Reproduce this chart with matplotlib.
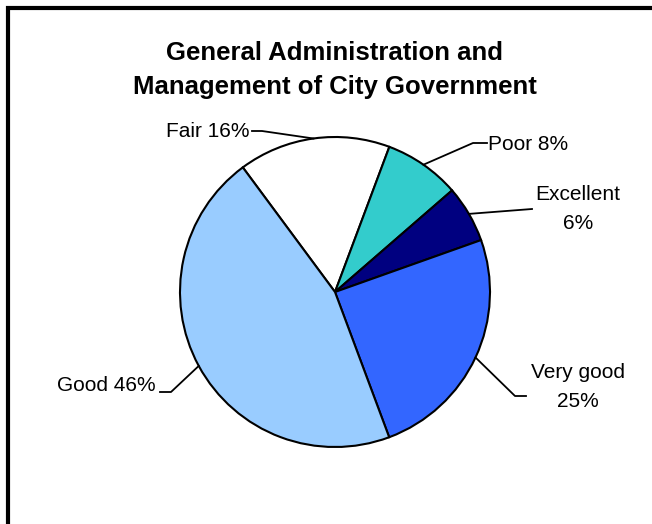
import matplotlib
matplotlib.use("Agg")
import matplotlib.pyplot as plt
import numpy as np
from matplotlib.patches import Rectangle

plt.rcParams['font.family'] = ['Liberation Sans', 'DejaVu Sans']

# Chart data
categories = ['Fair', 'Poor', 'Excellent', 'Very good', 'Good']
values = [16, 8, 6, 25, 46]
label_texts = ['Fair 16%', 'Poor 8%', 'Excellent\n6%', 'Very good\n25%', 'Good 46%']
colors = ['#FFFFFF', '#33CCCC', '#000080', '#3366FF', '#99CCFF']

W, H = 652, 524


def py(y):
    # pixel row (from top) -> data y (from bottom)
    return H - y


fig = plt.figure(figsize=(W / 100, H / 100), dpi=100)
ax = fig.add_axes([0, 0, 1, 1])

cx, cy, r = 335, 292, 155
start = 126.5
wedges, _ = ax.pie(values, colors=colors, startangle=start, counterclock=False,
                   center=(cx, py(cy)), radius=r,
                   wedgeprops=dict(edgecolor='black', linewidth=1.5))
ax.set_xlim(0, W)
ax.set_ylim(0, H)
ax.set_aspect('equal')
ax.axis('off')

# Outer frame (only left and top edges visible in the picture)
ax.add_patch(Rectangle((8, -20), W + 40, py(8) + 20, fill=False,
                       edgecolor='black', linewidth=3, zorder=5))

# Title
ax.text(335, py(60), 'General Administration and', ha='center', va='baseline',
        fontsize=18.5, fontweight='bold')
ax.text(335, py(94), 'Management of City Government', ha='center', va='baseline',
        fontsize=18.5, fontweight='bold')

# Label layout: (elbow point, line end, text anchor, ha) in pixels
layout = {
    'Fair': ((262, 131), (252, 131), (249, 137), 'right'),
    'Poor': ((473, 143), (487, 143), (488, 150), 'left'),
    'Excellent': ((532, 209), (532, 209), (578, 200), 'center'),
    'Very good': ((515, 396), (526, 396), (578, 378), 'center'),
    'Good': ((171, 392), (160, 392), (156, 391), 'right'),
}

for w, cat, txt in zip(wedges, categories, label_texts):
    mid = np.deg2rad((w.theta1 + w.theta2) / 2)
    ex = cx + r * np.cos(mid)
    ey = py(cy) + r * np.sin(mid)
    (bx, by), (lx, ly), (tx, ty), ha = layout[cat]
    ax.plot([ex, bx, lx], [ey, py(by), py(ly)], color='black', lw=1.3, zorder=4)
    lines = txt.split('\n')
    for i, line in enumerate(lines):
        ax.text(tx, py(ty + 29 * i), line, ha=ha, va='baseline', fontsize=15)

fig.savefig('out.png', dpi=100)
